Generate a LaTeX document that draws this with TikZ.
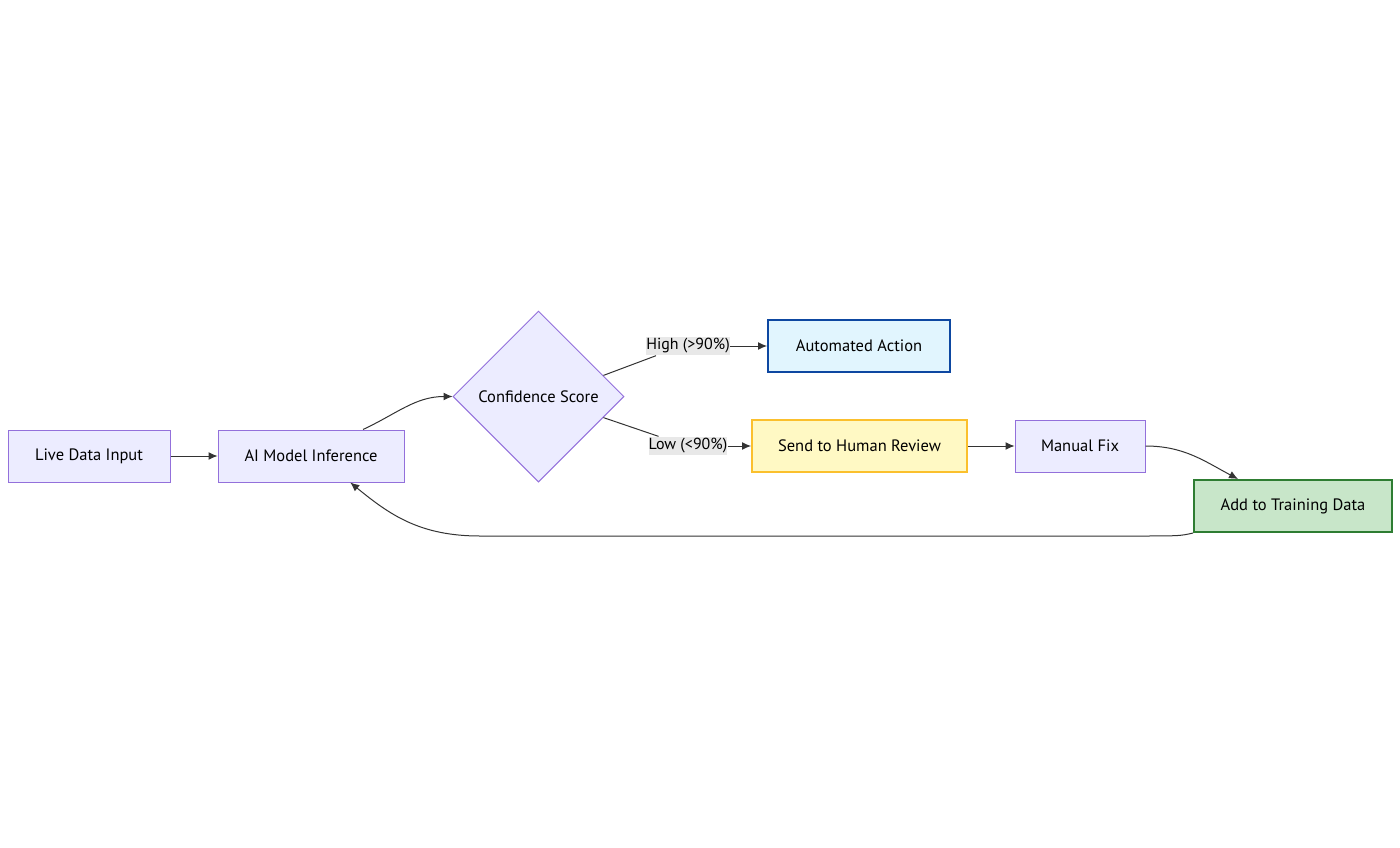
\documentclass[tikz,border=0pt]{standalone}
\usepackage{fontspec}
\setmainfont{PT Sans}
\usetikzlibrary{shapes.geometric,arrows.meta}

\definecolor{boxfill}{HTML}{ECECFF}
\definecolor{boxline}{HTML}{9370DB}
\definecolor{autofill}{HTML}{E1F5FE}
\definecolor{autoline}{HTML}{0D47A1}
\definecolor{reviewfill}{HTML}{FFF9C4}
\definecolor{reviewline}{HTML}{FBC02D}
\definecolor{trainfill}{HTML}{C8E6C9}
\definecolor{trainline}{HTML}{2E7D32}
\definecolor{edgeline}{HTML}{333333}
\definecolor{labelfill}{HTML}{E8E8E8}

\begin{document}
\begin{tikzpicture}[x=1pt, y=-1pt, font=\fontsize{16.5}{19}\selectfont]

    \tikzset{block/.style={%
      draw=boxline,%
      fill=boxfill,%
      rectangle,%
      line width=1pt,%
      inner sep=0pt,%
      minimum height=52pt}%
    };

    \tikzset{decision/.style={block, diamond, aspect=1, minimum width=171pt, minimum height=171pt}};

    \tikzset{edgelabel/.style={fill=labelfill, inner xsep=0pt, inner ysep=2pt, font=\fontsize{16}{19}\selectfont}};

    \tikzset{link/.style={draw=edgeline, line width=1pt}};

    \tikzset{flow/.style={link, -{Latex[length=9pt, width=8pt]}}};

    \useasboundingbox (0,0) rectangle (1400,847);

    %%%%%%%%%%%%%%%
    % main stages %
    %%%%%%%%%%%%%%%
    \path (89,456) node [block, minimum width=162pt] (live) {Live Data Input};

    \path (311,456) node [block, minimum width=186pt] (infer) {AI Model Inference};

    \path (538.5,396.5) node [decision] (conf) {Confidence Score};

    \path (859,346) node [block, minimum width=182pt, fill=autofill, draw=autoline, line width=2pt] (auto) {Automated Action};

    \path (859.5,446) node [block, minimum width=215pt, fill=reviewfill, draw=reviewline, line width=2pt] (review) {Send to Human Review};

    \path (1080,446) node [block, minimum width=130pt] (fix) {Manual Fix};

    \path (1293,506) node [block, minimum width=198pt, fill=trainfill, draw=trainline, line width=2pt] (train) {Add to Training Data};

    %%%%%%%%%%
    % labels %
    %%%%%%%%%%
    \path (688,346) node [edgelabel] (high) {High (>90\%)};

    \path (688,446) node [edgelabel] (low) {Low (<90\%)};

    \draw [flow] (live) -- (infer);
    \draw [flow] (infer.27) to [out=25, in=180] (conf.west);
    \draw [link] (conf.18) -- ([xshift=10pt]high.south west);
    \draw [flow] (high.east) -- (auto.west);
    \draw [link] (conf.-18) -- ([xshift=10pt]low.north west);
    \draw [flow] (low.east) -- (review.west);
    \draw [flow] (review) -- (fix);
    \draw [flow] (fix.east) to [out=0, in=152] (train.north west -| 1238,0);
    \draw [flow] (train.south west) .. controls (1180,536) .. (1130,536) -- (480,536) .. controls (420,536) and (390,515) .. (infer.-34);

  \end{tikzpicture}
\end{document}
